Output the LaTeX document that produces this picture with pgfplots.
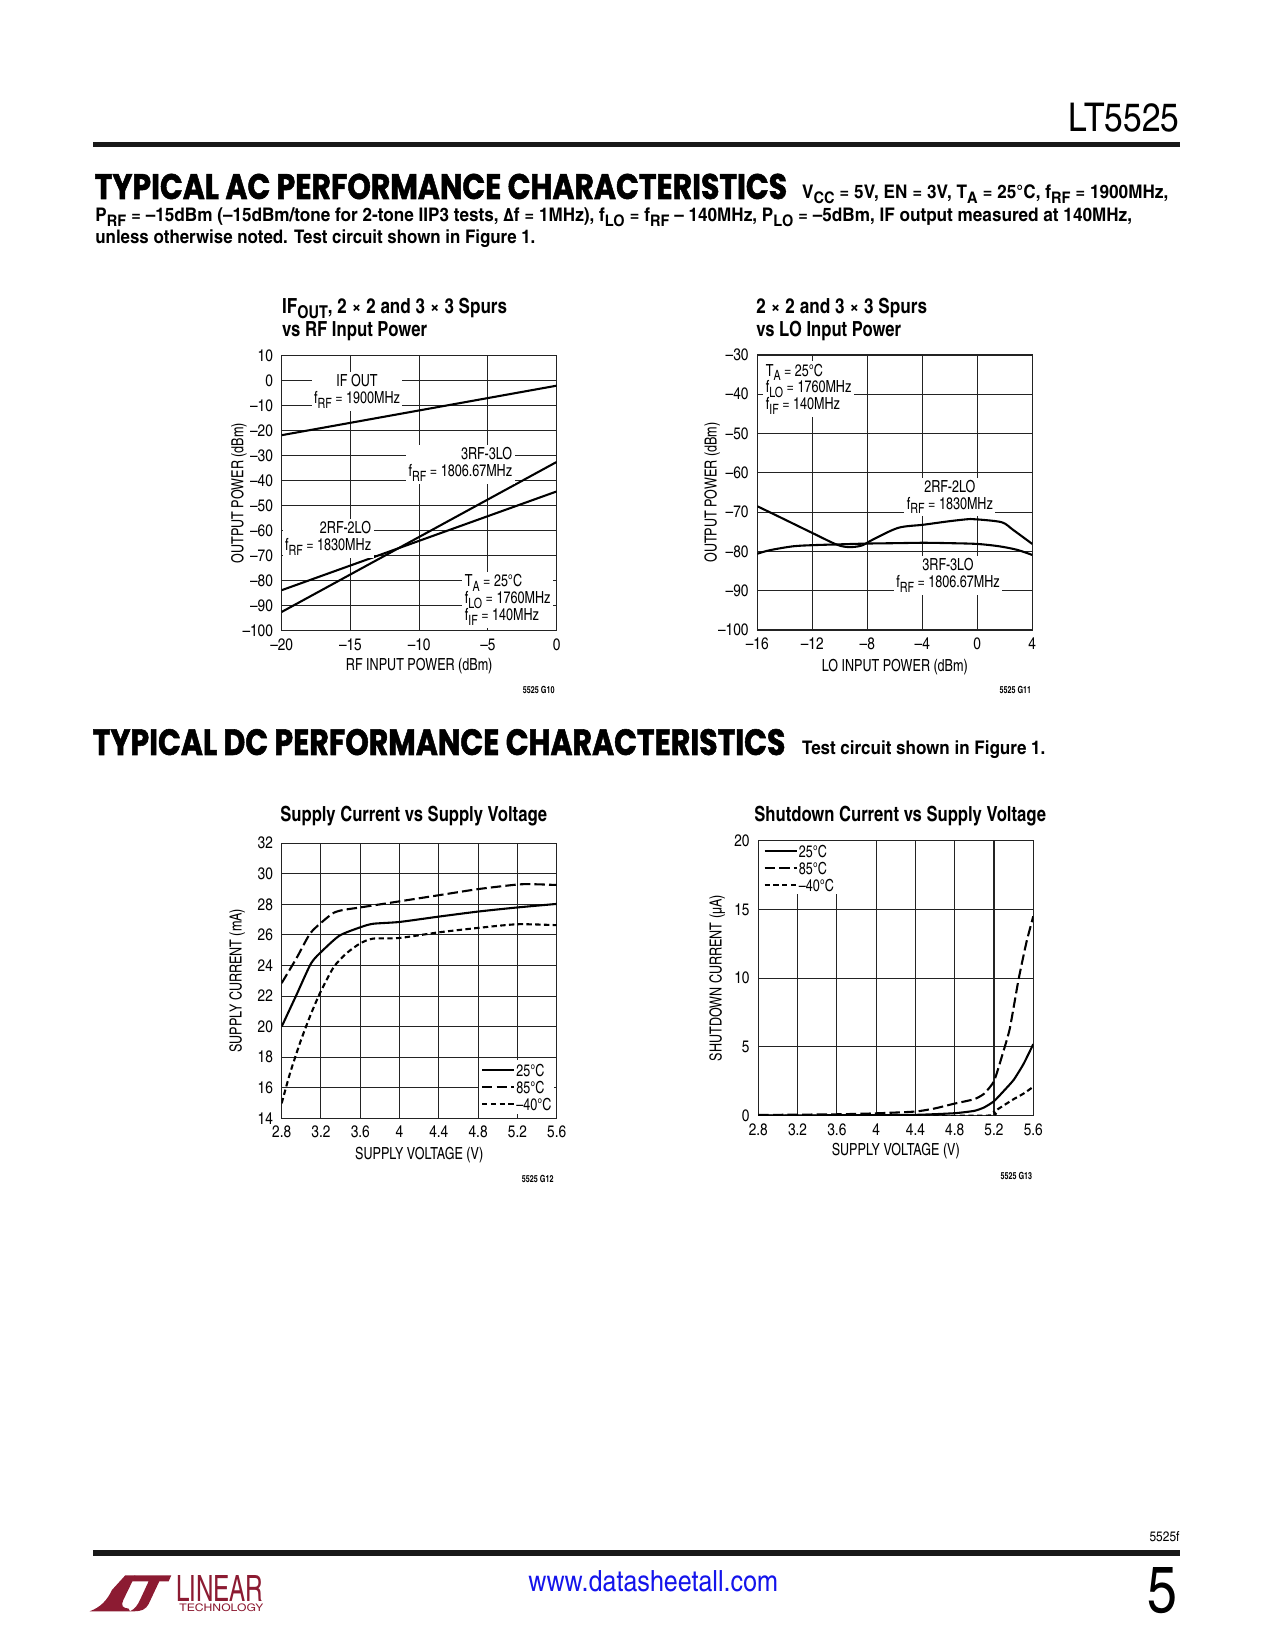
\documentclass[border=0pt]{standalone}
\usepackage{pgfplots}
\pgfplotsset{compat=1.18}
\usepackage{graphicx}
\usepackage{fontspec}
\setmainfont{texgyreheroscn}[Extension=.otf, UprightFont=*-regular, BoldFont=*-bold, ItalicFont=*-italic, BoldItalicFont=*-bolditalic]
\newfontfamily\narrowfont{texgyreheroscn}[Extension=.otf, UprightFont=*-regular, BoldFont=*-bold, FakeStretch=0.92]
\newfontfamily\headfont{Poppins}[BoldFeatures={FakeBold=1.6}]

\definecolor{ltred}{RGB}{140,27,50}
\definecolor{urlblue}{RGB}{20,20,235}
\definecolor{gridc}{RGB}{35,35,35}

\newlength\px \setlength\px{0.48bp}
\newcommand\sub[1]{\raisebox{-0.27em}{\scalebox{0.85}{#1}}}
\newcommand\tickfont{\fontsize{8bp}{9bp}\selectfont}
\newcommand\labfont{\narrowfont\fontsize{8bp}{9bp}\selectfont}
\newcommand\annfont{\narrowfont\fontsize{8bp}{7.6bp}\selectfont}
\newcommand\titlefont{\fontsize{10bp}{12bp}\selectfont\bfseries}
\newcommand\condfont{\fontsize{9bp}{11bp}\selectfont\bfseries}

\tikzset{
  ann/.style={fill=white, inner sep=1.2bp, font=\annfont},
  c85/.style={dash pattern=on 5bp off 2bp},
  c40/.style={dash pattern=on 2.6bp off 1.6bp},
}
\pgfplotsset{
  ds/.style={
    scale only axis, width=132bp, height=132bp, anchor=south west,
    axis line style={line width=0.6bp, gridc},
    grid=major, major grid style={line width=0.5bp, gridc},
    major tick length=0pt, tick style={draw=none},
    xticklabel style={font=\tickfont, anchor=base, yshift=-9.4bp},
    yticklabel style={font=\tickfont, anchor=east, inner sep=0pt, xshift=-4bp},
    label style={font=\labfont},
    xlabel style={at={(axis description cs:0.5,0)}, anchor=base, yshift=-19.3bp},
    ylabel style={at={(axis description cs:-0.142,0.5)}, anchor=base},
    every axis plot/.append style={line width=1bp, black},
  },
  dslegend/.style={
    legend style={draw=none, fill=white, inner sep=0.8bp, row sep=0.6bp,
      nodes={font=\labfont, inner sep=0.5bp, text height=6.6bp, text depth=0bp}},
    legend cell align=left,
    legend image code/.code={\draw[##1, line width=1bp] (0,0) -- (15.5bp,0);},
  },
}

\begin{document}
\begin{tikzpicture}
\useasboundingbox (0,0) rectangle (612bp,-792bp);

% ---------- IF out and spurs vs RF input power
\begin{axis}[ds, at={({281.7*0.48bp},{-630.7*0.48bp})},
  xmin=-20, xmax=0, ymin=-100, ymax=10,
  xtick={-20,-15,-10,-5,0}, xticklabels={–20,–15,–10,–5,0},
  ytick={-100,-90,-80,-70,-60,-50,-40,-30,-20,-10,0,10},
  yticklabels={–100,–90,–80,–70,–60,–50,–40,–30,–20,–10,0,10},
  xlabel={RF INPUT POWER (dBm)}, ylabel={OUTPUT POWER (dBm)},
  ylabel style={at={(axis description cs:-0.1396,0.5)}}]
\addplot[sharp plot] coordinates {(-20,-21.8) (0,-2)};
\addplot[sharp plot] coordinates {(-20,-92.5) (0,-32.5)};
\addplot[sharp plot] coordinates {(-20,-83.8) (0,-44.3)};
\node[ann, anchor=base] at (axis cs:-14.52,-2.5)
  {\begin{tabular}[t]{@{}c@{}}IF OUT\\ f\sub{RF} = 1900MHz\end{tabular}};
\node[ann, anchor=base east] at (axis cs:-3.03,-31.7)
  {\begin{tabular}[t]{@{}r@{}}3RF-3LO\\ f\sub{RF} = 1806.67MHz\end{tabular}};
\node[ann, anchor=base east] at (axis cs:-13.29,-61.3)
  {\begin{tabular}[t]{@{}r@{}}2RF-2LO\\ f\sub{RF} = 1830MHz\end{tabular}};
\node[ann, anchor=base west] at (axis cs:-6.89,-82.5)
  {\begin{tabular}[t]{@{}l@{}}T\sub{A} = 25°C\\ f\sub{LO} = 1760MHz\\ f\sub{IF} = 140MHz\end{tabular}};
\end{axis}

% ---------- spurs vs LO input power
\begin{axis}[ds, at={({757.3*0.48bp},{-630*0.48bp})},
  xmin=-16, xmax=4, ymin=-100, ymax=-30,
  xtick={-16,-12,-8,-4,0,4}, xticklabels={–16,–12,–8,–4,0,4},
  ytick={-100,-90,-80,-70,-60,-50,-40,-30},
  yticklabels={–100,–90,–80,–70,–60,–50,–40,–30},
  xlabel={LO INPUT POWER (dBm)}, ylabel={OUTPUT POWER (dBm)},
  xlabel style={yshift=-0.7bp}, ylabel style={at={(axis description cs:-0.1476,0.5)}}]
\addplot[smooth, tension=0.5] coordinates {(-16,-68.5) (-14.4,-71.2) (-12,-75.3) (-10.2,-78.3) (-9.3,-78.9) (-8.4,-78.5) (-7.6,-77) (-5.75,-74) (-3.9,-73.2) (-2,-72.3) (-0.5,-71.75) (0.2,-71.9) (1.8,-72.6) (2.6,-74.5) (4,-78.1)};
\addplot[smooth, tension=0.5] coordinates {(-16,-80.6) (-15.1,-79.7) (-13.4,-78.7) (-11.9,-78.4) (-10,-78.2) (-8,-78.0) (-5.9,-77.9) (-3.9,-77.8) (-2,-77.9) (0,-78.1) (1.6,-78.7) (2.9,-79.6) (4,-80.9)};
\node[ann, anchor=base west] at (axis cs:-15.59,-35.35)
  {\begin{tabular}[t]{@{}l@{}}T\sub{A} = 25°C\\ f\sub{LO} = 1760MHz\\ f\sub{IF} = 140MHz\end{tabular}};
\node[ann, anchor=base] at (axis cs:-1.99,-64.95)
  {\begin{tabular}[t]{@{}c@{}}2RF-2LO\\ f\sub{RF} = 1830MHz\end{tabular}};
\node[ann, anchor=base] at (axis cs:-2.13,-84.98)
  {\begin{tabular}[t]{@{}c@{}}3RF-3LO\\ f\sub{RF} = 1806.67MHz\end{tabular}};
\end{axis}

% ---------- supply current
\begin{axis}[ds, dslegend, at={({281.7*0.48bp},{-1118.3*0.48bp})},
  xmin=2.8, xmax=5.6, ymin=14, ymax=32,
  xtick={2.8,3.2,3.6,4.0,4.4,4.8,5.2,5.6}, xticklabels={2.8,3.2,3.6,4,4.4,4.8,5.2,5.6},
  ytick={14,16,18,20,22,24,26,28,30,32}, yticklabels={14,16,18,20,22,24,26,28,30,32},
  xlabel={SUPPLY VOLTAGE (V)}, ylabel={SUPPLY CURRENT (mA)},
  xlabel style={yshift=-0.7bp}, ylabel style={at={(axis description cs:-0.1455,0.5)}},
  legend style={at={(1,0)}, anchor=south east, xshift=-1bp, yshift=2bp}]
\addplot[smooth, tension=0.4] coordinates {(2.8,20.0) (2.95,22.07) (3.1,24.15) (3.22,25.0) (3.39,25.96) (3.6,26.5) (3.73,26.73) (4.0,26.85) (4.4,27.2) (4.8,27.53) (5.2,27.8) (5.6,28.03)};
\addplot[smooth, tension=0.4, c85] coordinates {(2.8,22.85) (2.95,24.47) (3.09,26.1) (3.22,26.9) (3.33,27.45) (3.43,27.64) (3.6,27.8) (4.0,28.2) (4.4,28.6) (4.8,29.0) (5.2,29.3) (5.36,29.32) (5.6,29.27)};
\addplot[smooth, tension=0.4, c40] coordinates {(2.8,14.98) (2.885,16.95) (2.99,19.0) (3.09,20.7) (3.19,22.2) (3.33,23.9) (3.46,24.8) (3.6,25.45) (3.73,25.76) (4.0,25.8) (4.4,26.17) (4.8,26.46) (5.2,26.7) (5.6,26.64)};
\legend{25°C, 85°C, –40°C}
\end{axis}

% ---------- shutdown current
\begin{axis}[ds, dslegend, at={({758.3*0.48bp},{-1115.7*0.48bp})},
  xmin=2.8, xmax=5.6, ymin=0, ymax=20,
  xtick={2.8,3.2,3.6,4.0,4.4,4.8,5.2,5.6}, xticklabels={2.8,3.2,3.6,4,4.4,4.8,5.2,5.6},
  ytick={0,5,10,15,20}, yticklabels={0,5,10,15,20},
  xlabel={SUPPLY VOLTAGE (V)}, ylabel={SHUTDOWN CURRENT (µA)},
  ylabel style={at={(axis description cs:-0.1331,0.5)}},
  legend style={at={(0,1)}, anchor=north west, xshift=1.5bp, yshift=0bp}]
\addplot[smooth, tension=0.3] coordinates {(2.8,0.02) (3.6,0.03) (4.4,0.06) (4.8,0.18) (5.0,0.35) (5.1,0.6) (5.2,1.05) (5.3,1.8) (5.4,2.6) (5.5,3.75) (5.6,5.2)};
\addplot[smooth, tension=0.3, c85] coordinates {(2.8,0.05) (3.6,0.1) (4.0,0.17) (4.4,0.3) (4.6,0.53) (4.8,0.88) (5.0,1.2) (5.1,1.6) (5.2,2.5) (5.28,4.3) (5.36,6.3) (5.45,9.9) (5.53,12.6) (5.6,14.5)};
\addplot[smooth, tension=0.3, c40] coordinates {(2.8,0) (5.1,0) (5.2,0.3) (5.3,0.75) (5.4,1.2) (5.5,1.6) (5.6,2.1)};
\legend{25°C, 85°C, –40°C}
\end{axis}

% ---------- page furniture
\begin{scope}[x=0.48bp, y=-0.48bp]
\node[anchor=base east, inner sep=0pt] at (1180,131.7)
  {\resizebox{110.7\px}{28.4\px}{\fontsize{19bp}{20bp}\selectfont LT5525}};
\fill[black!90] (93,141.7) rectangle (1180,147.3);
\node[anchor=base west, inner sep=0pt] at (94.3,199)
  {\resizebox{692.4\px}{25.3\px}{\headfont\bfseries TYPICAL AC PERFORMANCE CHARACTERISTICS}};
\node[anchor=base west, inner sep=0pt] at (801.7,198.3)
  {\resizebox{366.3\px}{\height}{\condfont V\sub{CC} = 5V, EN = 3V, T\sub{A} = 25°C, f\sub{RF} = 1900MHz,}};
\node[anchor=base west, inner sep=0pt] at (95,221.7)
  {\resizebox{1036.7\px}{\height}{\condfont P\sub{RF} = –15dBm (–15dBm/tone for 2-tone IIP3 tests, Δf = 1MHz), f\sub{LO} = f\sub{RF} – 140MHz, P\sub{LO} = –5dBm, IF output measured at 140MHz,}};
\node[anchor=base west, inner sep=0pt] at (95,244)
  {\resizebox{440\px}{\height}{\condfont unless otherwise noted. Test circuit shown in Figure 1.}};

\node[anchor=base west, inner sep=0pt] at (281.7,313.3)
  {\resizebox{225\px}{\height}{\titlefont IF\sub{OUT}, 2 × 2 and 3 × 3 Spurs}};
\node[anchor=base west, inner sep=0pt] at (281.7,336.7)
  {\resizebox{145\px}{\height}{\titlefont vs RF Input Power}};
\node[anchor=base west, inner sep=0pt] at (756,313.3)
  {\resizebox{170.7\px}{\height}{\titlefont 2 × 2 and 3 × 3 Spurs}};
\node[anchor=base west, inner sep=0pt] at (756,336.7)
  {\resizebox{144.7\px}{\height}{\titlefont vs LO Input Power}};
\node[anchor=base east, inner sep=0pt] at (555,694)
  {\resizebox{31.7\px}{\height}{\fontsize{4.7bp}{5bp}\selectfont\bfseries 5525 G10}};
\node[anchor=base east, inner sep=0pt] at (1031.7,694)
  {\resizebox{31.7\px}{\height}{\fontsize{4.7bp}{5bp}\selectfont\bfseries 5525 G11}};

\node[anchor=base west, inner sep=0pt] at (92.3,755)
  {\resizebox{692.7\px}{26\px}{\headfont\bfseries TYPICAL DC PERFORMANCE CHARACTERISTICS}};
\node[anchor=base west, inner sep=0pt] at (801.7,755)
  {\resizebox{243.3\px}{\height}{\condfont Test circuit shown in Figure 1.}};

\node[anchor=base west, inner sep=0pt] at (280,821.7)
  {\resizebox{266.7\px}{\height}{\titlefont Supply Current vs Supply Voltage}};
\node[anchor=base west, inner sep=0pt] at (754,821.7)
  {\resizebox{291.7\px}{\height}{\titlefont Shutdown Current vs Supply Voltage}};
\node[anchor=base east, inner sep=0pt] at (554,1182.7)
  {\resizebox{31.7\px}{\height}{\fontsize{4.7bp}{5bp}\selectfont\bfseries 5525 G12}};
\node[anchor=base east, inner sep=0pt] at (1032.7,1179.3)
  {\resizebox{31.7\px}{\height}{\fontsize{4.7bp}{5bp}\selectfont\bfseries 5525 G13}};

\node[anchor=base east, inner sep=0pt] at (1180,1542)
  {\resizebox{30\px}{\height}{\fontsize{6.6bp}{7bp}\selectfont 5525f}};
\fill[black!90] (93,1550) rectangle (1180,1556.5);
\node[anchor=base west, inner sep=0pt, text=urlblue] at (528,1592)
  {\resizebox{249.5\px}{\height}{\fontsize{14bp}{16bp}\selectfont www.datasheetall.com}};
\node[anchor=base east, inner sep=0pt] at (1178,1613)
  {\resizebox{30\px}{45\px}{\fontsize{30bp}{32bp}\selectfont 5}};

% logo
\begin{scope}[shift={(88,1568)}, x=0.16bp, y=-0.16bp]
\fill[ltred] (112,22) -- (142,22) -- (106,96) .. controls (98,114) and (104,120) .. (122,122)
  -- (126,130) -- (5,130) .. controls (38,118) and (58,96) .. (72,66) -- cycle;
\fill[ltred] (140,22) -- (250,22) -- (242,40) -- (214,40) -- (182,108)
  .. controls (174,124) and (160,130) .. (140,130) -- (126,130)
  .. controls (140,124) and (150,110) .. (156,96) -- (182,40) -- (132,40) -- cycle;
\end{scope}
\node[anchor=base west, inner sep=0pt, text=ltred] at (175.7,1601.7)
  {\resizebox{87.3\px}{26\px}{\fontsize{14bp}{16bp}\selectfont LINEAR}};
\node[anchor=base west, inner sep=0pt, text=ltred] at (179,1611.7)
  {\resizebox{84\px}{7.7\px}{\fontsize{5bp}{6bp}\selectfont TECHNOLOGY}};
\end{scope}
\end{tikzpicture}
\end{document}
